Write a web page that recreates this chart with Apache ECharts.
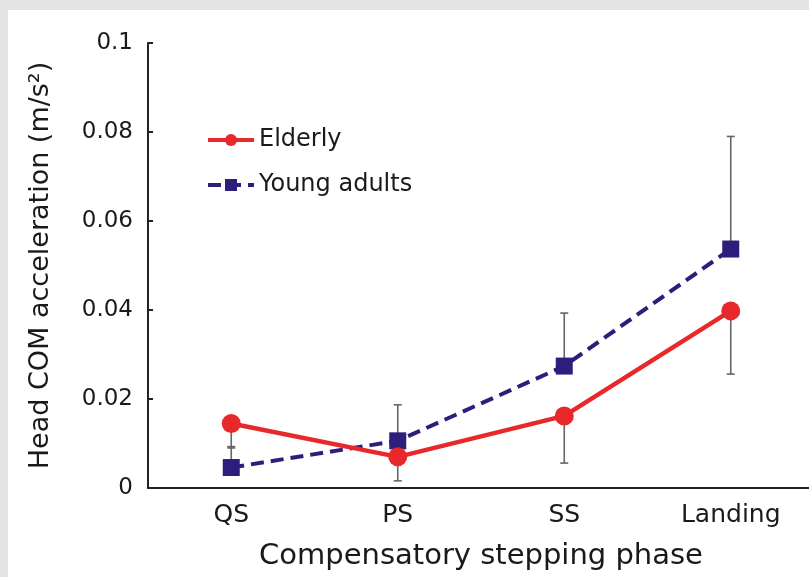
<!DOCTYPE html>
<html><head><meta charset="utf-8">
<script src="https://cdn.jsdelivr.net/npm/echarts@6/dist/echarts.min.js"></script>
<style>html,body{margin:0;padding:0;background:#e3e3e3}#c{width:809px;height:577px}</style>
</head><body><div id="c"></div>
<script>
const categories = ['QS', 'PS', 'SS', 'Landing'];
const elderly = [0.0145, 0.0070, 0.0162, 0.0398];
const young = [0.0046, 0.0106, 0.0274, 0.0537];
const elderlySD = [0.0055, 0.0054, 0.0106, 0.0142];
const youngSD = [0.0047, 0.0081, 0.0119, 0.0253];

const RED = '#e8282b';
const PURPLE = '#2f1d7c';
const FONT = 'DejaVu Sans';

const errData = [];
categories.forEach((c, i) => {
  errData.push([i, elderly[i] - elderlySD[i], elderly[i]]);
  errData.push([i, young[i], young[i] + youngSD[i]]);
});

const chart = echarts.init(document.getElementById('c'), null, {renderer: 'canvas'});
chart.setOption({
  backgroundColor: '#e3e3e3',
  animation: false,
  textStyle: {fontFamily: FONT},
  graphic: [{
    type: 'rect', z: -100, silent: true,
    shape: {x: 8, y: 10, width: 801, height: 567},
    style: {fill: '#ffffff'}
  }],
  grid: {left: 148, width: 666, top: 43, bottom: 89, containLabel: false, outerBoundsMode: 'none'},
  legend: {
    orient: 'vertical', left: 201, top: 122,
    itemWidth: 46, itemHeight: 15, itemGap: 19,
    lineStyle: {width: 4},
    textStyle: {fontFamily: FONT, fontSize: 24, color: '#1a1a1a', lineHeight: 26},
    data: ['Elderly', 'Young adults']
  },
  xAxis: {
    type: 'category', data: categories, boundaryGap: true,
    axisLine: {show: true, lineStyle: {color: '#222', width: 2}},
    axisTick: {show: false},
    axisLabel: {fontFamily: FONT, fontSize: 25, color: '#1a1a1a', margin: 15},
    name: 'Compensatory stepping phase', nameLocation: 'middle', nameGap: 54,
    nameTextStyle: {fontFamily: FONT, fontSize: 29, color: '#1a1a1a', verticalAlign: 'top'},
    splitLine: {show: false}
  },
  yAxis: {
    type: 'value', min: 0, max: 0.1, interval: 0.02,
    axisLine: {show: true, lineStyle: {color: '#222', width: 2}},
    axisTick: {show: true, inside: true, length: 5, lineStyle: {color: '#222', width: 2}},
    axisLabel: {fontFamily: FONT, fontSize: 23, color: '#1a1a1a', margin: 15},
    splitLine: {show: false},
    name: 'Head COM acceleration (m/s²)', nameLocation: 'middle', nameGap: 94,
    nameTextStyle: {fontFamily: FONT, fontSize: 27, color: '#1a1a1a'}
  },
  series: [
    {
      type: 'custom', name: 'err', z: 1, silent: true,
      data: errData,
      encode: {x: 0, y: [1, 2]},
      renderItem: function (params, api) {
        const x = api.value(0);
        const lo = api.coord([x, api.value(1)]);
        const hi = api.coord([x, api.value(2)]);
        const cw = 4;
        const style = {stroke: '#666', lineWidth: 1.6};
        return {type: 'group', children: [
          {type: 'line', shape: {x1: lo[0], y1: lo[1], x2: hi[0], y2: hi[1]}, style: style},
          {type: 'line', shape: {x1: lo[0] - cw, y1: lo[1], x2: lo[0] + cw, y2: lo[1]}, style: style},
          {type: 'line', shape: {x1: hi[0] - cw, y1: hi[1], x2: hi[0] + cw, y2: hi[1]}, style: style}
        ]};
      }
    },
    {
      type: 'line', name: 'Young adults', data: young, z: 3,
      symbol: 'rect', symbolSize: 17,
      lineStyle: {color: PURPLE, width: 4, type: [13, 7]},
      itemStyle: {color: PURPLE}
    },
    {
      type: 'line', name: 'Elderly', data: elderly, z: 4,
      symbol: 'circle', symbolSize: 19,
      lineStyle: {color: RED, width: 4.5},
      itemStyle: {color: RED}
    }
  ]
});
</script></body></html>
